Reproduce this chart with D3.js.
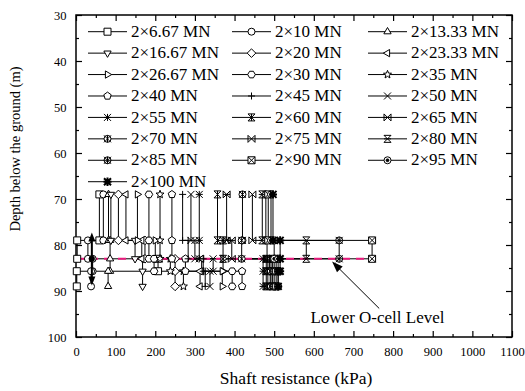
<!DOCTYPE html>
<html>
<head>
<meta charset="utf-8">
<script src="https://cdn.jsdelivr.net/npm/d3@7"></script>
<style>
  html, body { margin: 0; padding: 0; background: #fff; }
  svg { display: block; }
</style>
</head>
<body>
<svg id="chart" width="525" height="391"></svg>
<script>
// Load steps (bidirectional O-cell test)
const seriesLabels = [
  "2×6.67 MN", "2×10 MN", "2×13.33 MN", "2×16.67 MN", "2×20 MN", "2×23.33 MN",
  "2×26.67 MN", "2×30 MN", "2×35 MN", "2×40 MN", "2×45 MN", "2×50 MN",
  "2×55 MN", "2×60 MN", "2×65 MN", "2×70 MN", "2×75 MN", "2×80 MN",
  "2×85 MN", "2×90 MN", "2×95 MN", "2×100 MN"
];

// Layer boundary depths (m)
const depthLevels = [69, 79, 83, 85.7, 89];

// Shaft resistance (kPa) in each soil layer, one value per load step
const layer1 = [59, 69, 82, 88, 107, 126, 155, 184, 212, 242, 269, 290, 311, 357, 380, 420, 445, 470, 479, 485, 492, 497];
const layer2 = [3, 30, 86, 149, 174, 166, 200, 184, 212, 242, 283, 300, 311, 371, 393, 418, 482, 581, 664, 747, 500, 515];
const layer3 = [207, 42, 86, 168, 250, 317, 371, 197, 238, 276, 321, 346, 472, 480, 484, 488, 492, 496, 500, 505, 510, 515];
const layer4 = [2, 38, 81, 168, 250, 313, 369, 394, 271, 419, 326, 338, 472, 480, 484, 490, 492, 496, 500, 505, 510, 510];

// Lower O-cell level (m) and its span along the resistance axis (kPa)
const ocellDepth = 83;
const ocellSpan = [0, 747];

// Axis ticks
const xTicks = [0, 100, 200, 300, 400, 500, 600, 700, 800, 900, 1000, 1100];
const yTicks = [30, 40, 50, 60, 70, 80, 90, 100];

// Marker glyph per load step
const symbolKinds = [
  "square", "circle", "triUp", "triDown", "diamond", "triLeft",
  "triRight", "hexagon", "star", "pentagon", "plus", "cross",
  "asterisk", "xHour", "xBow", "xCircle", "xBarV", "xBarH",
  "xCircle2", "xSquare", "dotCircle", "starFill"
];

const FONT = '"Liberation Serif"';
const svg = d3.select("#chart");
const x = d3.scaleLinear().domain([0, 1100]).range([76, 512]);
const y = d3.scaleLinear().domain([30, 100]).range([15, 337]);

function label(parent, tx, ty, str, size, anchor) {
  return parent.append("text")
    .attr("x", tx).attr("y", ty)
    .attr("text-anchor", anchor || "start")
    .style("font-family", FONT).attr("font-size", size).attr("fill", "#000")
    .text(str);
}

// ---- marker glyphs ----
function poly(n, r, rot) {
  const pts = [];
  for (let i = 0; i < n; i++) {
    const a = rot + i * 2 * Math.PI / n;
    pts.push([r * Math.cos(a), r * Math.sin(a)]);
  }
  return "M" + pts.map(p => p[0].toFixed(2) + "," + p[1].toFixed(2)).join("L") + "Z";
}
function circ(r) {
  return `M${r},0A${r},${r} 0 1,1 ${-r},0A${r},${r} 0 1,1 ${r},0Z`;
}
function glyph(g, kind) {
  const r = 3.5;
  const add = (d, fill) => g.append("path").attr("d", d)
    .attr("fill", fill || "#fff").attr("stroke", "#000").attr("stroke-width", 1);
  const X = `M${-r},${-r}L${r},${r}M${r},${-r}L${-r},${r}`;
  switch (kind) {
    case "square": add(`M${-r},${-r}H${r}V${r}H${-r}Z`); break;
    case "circle": add(circ(r)); break;
    case "triUp": add(poly(3, 4.2, -Math.PI / 2)); break;
    case "triDown": add(poly(3, 4.2, Math.PI / 2)); break;
    case "triLeft": add(poly(3, 4.2, Math.PI)); break;
    case "triRight": add(poly(3, 4.2, 0)); break;
    case "diamond": add(poly(4, 4.3, 0)); break;
    case "hexagon": add(poly(6, 3.8, 0)); break;
    case "pentagon": add(poly(5, 3.9, -Math.PI / 2)); break;
    case "star": {
      const pts = [];
      for (let i = 0; i < 10; i++) {
        const rr = i % 2 ? 1.8 : 4.2, a = -Math.PI / 2 + i * Math.PI / 5;
        pts.push([rr * Math.cos(a), rr * Math.sin(a)]);
      }
      add("M" + pts.map(p => p.join(",")).join("L") + "Z");
      break;
    }
    case "plus": add(`M${-r},0H${r}M0,${-r}V${r}`, "none"); break;
    case "cross": add(X, "none"); break;
    case "asterisk": add(X + `M0,${-r}V${r}M${-r},0H${r}`, "none"); break;
    case "xHour": add(X + `M${-r},${-r}H${r}M${-r},${r}H${r}M0,${-r}V${r}`, "none"); break;
    case "xBow": add(X + `M${-r},${-r}V${r}M${r},${-r}V${r}M${-r},0H${r}`, "none"); break;
    case "xCircle": add(circ(r)); add(X + `M0,${-r}V${r}`, "none"); break;
    case "xBarV": add(X + `M${-r},${-r}V${r}M${r},${-r}V${r}`, "none"); break;
    case "xBarH": add(X + `M${-r},${-r}H${r}M${-r},${r}H${r}M${-r},0H${r}`, "none"); break;
    case "xCircle2": add(circ(r)); add(X + `M${-r},0H${r}M0,${-r}V${r}`, "none"); break;
    case "xSquare": add(`M${-r},${-r}H${r}V${r}H${-r}Z`); add(X, "none"); break;
    case "dotCircle": add(circ(r)); add(circ(1.4), "#000"); break;
    case "starFill": {
      add(circ(1.8), "#000");
      g.append("path").attr("d", X + `M0,${-4.2}V4.2M${-4},0H4`)
        .attr("stroke", "#000").attr("stroke-width", 2).attr("fill", "none");
      break;
    }
  }
}

// ---- frame, ticks, labels ----
const axes = svg.append("g");
axes.append("g").attr("transform", `translate(0,${y(100)})`)
  .call(d3.axisBottom(x).tickValues(d3.range(50, 1100, 100)).tickSize(-3).tickFormat(""));
axes.append("g").attr("transform", `translate(0,${y(100)})`)
  .call(d3.axisBottom(x).tickValues(xTicks).tickSize(-6).tickPadding(9.8).tickFormat(d3.format("d")));
axes.append("g").attr("transform", `translate(0,${y(30)})`)
  .call(d3.axisTop(x).tickValues(d3.range(50, 1100, 100)).tickSize(-3).tickFormat(""));
axes.append("g").attr("transform", `translate(0,${y(30)})`)
  .call(d3.axisTop(x).tickValues(xTicks).tickSize(-6).tickFormat(""));
axes.append("g").attr("transform", `translate(${x(0)},0)`)
  .call(d3.axisLeft(y).tickValues(d3.range(35, 100, 10)).tickSize(-3).tickFormat(""));
axes.append("g").attr("transform", `translate(${x(0)},0)`)
  .call(d3.axisLeft(y).tickValues(yTicks).tickSize(-6).tickPadding(9.5).tickFormat(d3.format("d")));
axes.append("g").attr("transform", `translate(${x(1100)},0)`)
  .call(d3.axisRight(y).tickValues(d3.range(35, 100, 10)).tickSize(-3).tickFormat(""));
axes.append("g").attr("transform", `translate(${x(1100)},0)`)
  .call(d3.axisRight(y).tickValues(yTicks).tickSize(-6).tickFormat(""));
axes.selectAll(".domain").remove();
axes.selectAll(".tick line").attr("stroke", "#000").attr("stroke-width", 1.2);
axes.selectAll(".tick text").style("font-family", FONT)
  .attr("font-size", 12.5).attr("fill", "#000");

svg.append("rect")
  .attr("x", x(0)).attr("y", y(30))
  .attr("width", x(1100) - x(0)).attr("height", y(100) - y(30))
  .attr("fill", "none").attr("stroke", "#000").attr("stroke-width", 1.5);

label(svg, 296, 384, "Shaft resistance (kPa)", 17.5, "middle");
label(svg, 0, 0, "Depth below the ground (m)", 14.5, "middle")
  .attr("transform", "translate(20.2,149) rotate(-90)");

// ---- profiles ----
const plot = svg.append("g");
const series = seriesLabels.map((name, i) => {
  const v = [layer1[i], layer2[i], layer3[i], layer4[i]];
  const pts = [];
  v.forEach((val, k) => {
    pts.push([val, depthLevels[k]]);
    pts.push([val, depthLevels[k + 1]]);
  });
  return { name, kind: symbolKinds[i], pts };
});

const line = d3.line().x(d => x(d[0])).y(d => y(d[1]));
plot.selectAll("path.profile").data(series).join("path")
  .attr("class", "profile")
  .attr("d", d => line(d.pts))
  .attr("fill", "none").attr("stroke", "#000").attr("stroke-width", 1);

// Lower O-cell level
plot.append("line")
  .attr("x1", x(ocellSpan[0])).attr("x2", x(ocellSpan[1]))
  .attr("y1", y(ocellDepth)).attr("y2", y(ocellDepth))
  .attr("stroke", "#e8197c").attr("stroke-width", 2).attr("stroke-dasharray", "8,6");

// markers
series.forEach(s => {
  const seen = new Set();
  s.pts.forEach(p => {
    const key = p.join("|");
    if (seen.has(key)) return;
    seen.add(key);
    const g = plot.append("g").attr("transform", `translate(${x(p[0])},${y(p[1])})`);
    glyph(g, s.kind);
  });
});

// movement direction arrows at the O-cell
const arrowX = 40;
const arr = svg.append("g");
arr.append("line").attr("x1", x(arrowX)).attr("x2", x(arrowX))
  .attr("y1", y(78.6)).attr("y2", y(87.6)).attr("stroke", "#000").attr("stroke-width", 2);
arr.append("path")
  .attr("d", `M${x(arrowX)},${y(77.3)}l-3.5,9h7Z`).attr("fill", "#000");
arr.append("path")
  .attr("d", `M${x(arrowX)},${y(88.8)}l-3.5,-9h7Z`).attr("fill", "#000");
arr.append("circle").attr("cx", x(arrowX)).attr("cy", y(ocellDepth)).attr("r", 3).attr("fill", "#000");

// annotation
const tip = [646, 83.6], tail = [765, 93.8];
const ax1 = x(tail[0]), ay1 = y(tail[1]), ax2 = x(tip[0]), ay2 = y(tip[1]);
const ang = Math.atan2(ay2 - ay1, ax2 - ax1);
svg.append("line").attr("x1", ax1).attr("y1", ay1).attr("x2", ax2 - 6 * Math.cos(ang)).attr("y2", ay2 - 6 * Math.sin(ang))
  .attr("stroke", "#000").attr("stroke-width", 1);
svg.append("path")
  .attr("d", `M0,0L-11,-4L-11,4Z`)
  .attr("transform", `translate(${ax2},${ay2}) rotate(${ang * 180 / Math.PI})`)
  .attr("fill", "#000");
label(svg, 377.5, 323, "Lower O-cell Level", 17, "middle");

// ---- legend ----
const legend = svg.append("g");
const colStart = [88, 232, 368];
series.forEach((s, i) => {
  const col = i % 3, row = Math.floor(i / 3);
  const lx = colStart[col], ly = 31.7 + row * 21.43;
  const g = legend.append("g").attr("transform", `translate(${lx},${ly})`);
  g.append("line").attr("x1", 0).attr("x2", 39).attr("y1", 0).attr("y2", 0)
    .attr("stroke", "#000").attr("stroke-width", 1);
  const m = g.append("g").attr("transform", "translate(19.5,0)");
  glyph(m, s.kind);
  label(g, 43, 5.2, s.name, 17);
});
</script>
</body>
</html>
